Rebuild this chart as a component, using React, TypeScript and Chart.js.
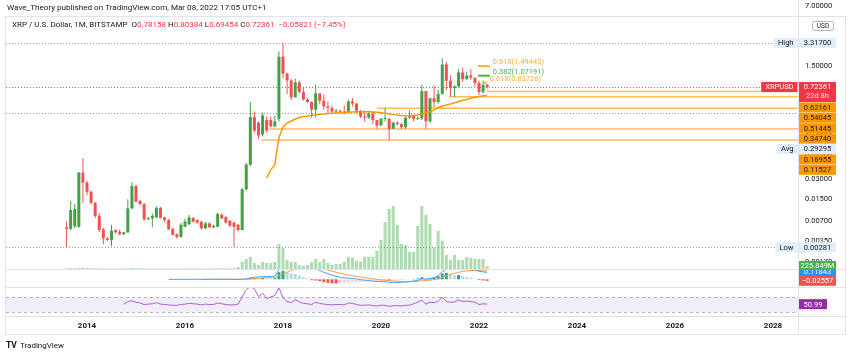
import React, { useEffect, useRef } from "react";
import { Chart, registerables } from "chart.js";

Chart.register(...registerables);

const W = 850;
const H = 357;
const FONT = "Roboto, 'DejaVu Sans', sans-serif";

// ---------------- data ----------------
const START_YEAR = 2013;
const START_MONTH = 8; // first monthly candle: Aug 2013

const opens = [
  0.0056, 0.0053, 0.0058, 0.0057, 0.0372, 0.0263, 0.0192, 0.0131, 0.0083, 0.0052,
  0.0038, 0.0036, 0.0051, 0.0048, 0.0044, 0.0047, 0.0108, 0.0234, 0.014, 0.0125,
  0.0074, 0.0076, 0.0079, 0.011, 0.0079, 0.0072, 0.0053, 0.0044, 0.004, 0.0057,
  0.0062, 0.0077, 0.0072, 0.0068, 0.0054, 0.0064, 0.0056, 0.0057, 0.0086, 0.008,
  0.007, 0.0066, 0.0061, 0.0051, 0.0209, 0.049, 0.255, 0.21, 0.14, 0.23,
  0.23, 0.185, 0.24, 2.07, 1.15, 0.91, 0.51, 0.85, 0.61, 0.47,
  0.43, 0.33, 0.58, 0.45, 0.37, 0.35, 0.31, 0.315, 0.31, 0.3,
  0.44, 0.41, 0.32, 0.26, 0.25, 0.29, 0.23, 0.19, 0.24, 0.24,
  0.17, 0.21, 0.2, 0.18, 0.25, 0.27, 0.24, 0.245, 0.63, 0.22,
  0.49, 0.43, 0.57, 1.58, 0.9, 0.7, 0.74, 1.2, 0.95, 1.08,
  1.0, 0.83, 0.61, 0.78158,
];
const highs = [
  0.0068, 0.0141, 0.0125, 0.0381, 0.0612, 0.0282, 0.02, 0.0135, 0.0092, 0.0055,
  0.004, 0.0061, 0.0052, 0.0052, 0.0048, 0.0148, 0.0266, 0.0245, 0.0145, 0.013,
  0.008, 0.009, 0.0115, 0.0113, 0.008, 0.0075, 0.0055, 0.0045, 0.0065, 0.0075,
  0.0086, 0.008, 0.0074, 0.007, 0.0067, 0.0066, 0.0061, 0.0093, 0.009, 0.0082,
  0.0072, 0.0068, 0.0063, 0.0218, 0.052, 0.43, 0.31, 0.22, 0.3, 0.26,
  0.26, 0.27, 2.47, 3.317, 1.2, 0.96, 0.97, 0.9, 0.7, 0.5,
  0.44, 0.79, 0.58, 0.56, 0.44, 0.38, 0.34, 0.33, 0.38, 0.47,
  0.5, 0.41, 0.32, 0.32, 0.32, 0.31, 0.23, 0.25, 0.35, 0.25,
  0.22, 0.22, 0.21, 0.26, 0.32, 0.28, 0.26, 0.78, 0.63, 0.5,
  0.76, 0.65, 1.96, 1.75, 1.09, 0.77, 1.35, 1.41, 1.23, 1.35,
  1.01, 0.91, 0.91, 0.80384,
];
const lows = [
  0.00281, 0.0051, 0.0054, 0.0055, 0.0129, 0.017, 0.0122, 0.0077, 0.0047, 0.0031,
  0.0035, 0.0029, 0.0045, 0.0043, 0.0043, 0.0046, 0.0105, 0.0133, 0.0122, 0.007,
  0.0072, 0.0056, 0.0077, 0.0076, 0.0068, 0.0051, 0.0042, 0.0038, 0.0039, 0.0056,
  0.006, 0.0066, 0.0064, 0.0052, 0.0053, 0.0055, 0.0054, 0.0056, 0.0075, 0.0064,
  0.0057, 0.00286, 0.0049, 0.005, 0.02, 0.047, 0.15, 0.12, 0.13, 0.15,
  0.18, 0.18, 0.22, 0.97, 0.57, 0.46, 0.5, 0.58, 0.45, 0.42,
  0.25, 0.25, 0.4, 0.33, 0.28, 0.29, 0.29, 0.3, 0.28, 0.29,
  0.37, 0.29, 0.25, 0.22, 0.24, 0.2, 0.17, 0.19, 0.22, 0.115,
  0.17, 0.19, 0.17, 0.17, 0.24, 0.22, 0.23, 0.23, 0.17, 0.21,
  0.36, 0.41, 0.56, 0.65, 0.51, 0.51, 0.71, 0.86, 0.93, 0.94,
  0.75, 0.55, 0.58, 0.69454,
];
const closes = [
  0.0053, 0.0102, 0.0106, 0.0374, 0.0263, 0.0192, 0.0131, 0.0083, 0.0051, 0.0038,
  0.0036, 0.005, 0.0047, 0.0044, 0.0047, 0.0108, 0.0234, 0.0136, 0.0125, 0.0074,
  0.0076, 0.0083, 0.011, 0.0078, 0.0072, 0.0052, 0.0043, 0.004, 0.0061, 0.0068,
  0.0079, 0.0068, 0.0066, 0.0054, 0.0064, 0.0056, 0.0059, 0.0089, 0.0076, 0.0066,
  0.0059, 0.0057, 0.0051, 0.0209, 0.0494, 0.255, 0.16, 0.135, 0.27, 0.16,
  0.185, 0.22, 2.07, 1.15, 0.91, 0.51, 0.85, 0.61, 0.47, 0.43,
  0.33, 0.58, 0.45, 0.37, 0.35, 0.31, 0.315, 0.31, 0.3, 0.44,
  0.41, 0.32, 0.26, 0.25, 0.29, 0.23, 0.19, 0.24, 0.24, 0.17,
  0.21, 0.2, 0.18, 0.25, 0.27, 0.24, 0.245, 0.63, 0.22, 0.49,
  0.43, 0.57, 1.58, 0.9, 0.7, 0.74, 1.2, 0.95, 1.08, 1.0,
  0.83, 0.61, 0.78182, 0.72361,
];
// volume in millions
const volumes = [
  45, 60, 55, 80, 95, 70, 60, 55, 50, 45,
  40, 45, 40, 40, 40, 60, 80, 70, 55, 50,
  45, 45, 50, 50, 45, 45, 40, 40, 45, 50,
  55, 50, 45, 45, 45, 45, 45, 60, 55, 50,
  50, 60, 150, 550, 750, 920, 450, 300, 525, 450,
  450, 525, 1875, 1575, 675, 550, 525, 300, 225, 300,
  525, 750, 525, 750, 450, 300, 375, 375, 550, 920,
  850, 600, 550, 920, 920, 920, 1370, 2175, 3525, 4500,
  4725, 3300, 1875, 1800, 1300, 1300, 3225, 4725, 4050, 3375,
  1575, 2850, 2125, 1050, 675, 1050, 675, 675, 900, 850,
  750, 750, 750, 225.849,
];
// anchored average line (starts Sep 2017)
const avgLine = [
  ...Array(49).fill(null),
  0.031, 0.041, 0.049, 0.124, 0.181, 0.208, 0.223, 0.239, 0.252, 0.261,
  0.265, 0.272, 0.276, 0.281, 0.284, 0.288, 0.291, 0.294, 0.297, 0.3,
  0.3025, 0.305, 0.307, 0.308, 0.308, 0.307, 0.305, 0.301, 0.297, 0.291,
  0.284, 0.278, 0.2745, 0.27, 0.267, 0.265, 0.27, 0.2745, 0.284, 0.296,
  0.308, 0.327, 0.356, 0.375, 0.388, 0.402, 0.42, 0.438, 0.457, 0.47,
  0.49, 0.507, 0.522, 0.533, 0.54045,
];
const macdLine = [
  ...Array(25).fill(null),
  -0.0008, -0.001, -0.0011, -0.0008, -0.0006, -0.0003, -0.0002, -0.0002, -0.0003, -0.0002,
  -0.0002, -0.0002, 0.0001, 0.0001, 0.0, -0.0001, -0.0002, -0.0003,
  0.002, 0.006, 0.025, 0.035, 0.04, 0.045, 0.048, 0.05, 0.055, 0.16,
  0.22, 0.25, 0.25, 0.26, 0.25, 0.23, 0.21, 0.18, 0.17, 0.15,
  0.12, 0.095, 0.07, 0.05, 0.035, 0.022, 0.02, 0.015, 0.006, -0.005,
  -0.015, -0.022, -0.03, -0.038, -0.04, -0.042, -0.05, -0.052, -0.052, -0.05,
  -0.046, -0.04, -0.03, -0.02, 0.01, 0.0, 0.01, 0.03, 0.06, 0.13,
  0.17, 0.18, 0.175, 0.19, 0.185, 0.18, 0.175, 0.16, 0.135, 0.125,
  0.11843,
];
const signalLine = [
  ...Array(33).fill(null),
  -0.0004, -0.0003, -0.0003, -0.0003, -0.0002, -0.0001, -0.0001, -0.0001, -0.0001, -0.0001,
  0.0003, 0.0015, 0.006, 0.012, 0.018, 0.023, 0.028, 0.032, 0.036, 0.06,
  0.092, 0.12, 0.15, 0.17, 0.185, 0.195, 0.198, 0.195, 0.19, 0.18,
  0.17, 0.155, 0.138, 0.12, 0.103, 0.087, 0.074, 0.062, 0.05, 0.039,
  0.028, 0.018, 0.008, -0.001, -0.009, -0.016, -0.023, -0.029, -0.034, -0.037,
  -0.039, -0.039, -0.037, -0.034, -0.025, -0.02, -0.014, -0.005, 0.008, 0.032,
  0.06, 0.084, 0.102, 0.12, 0.133, 0.142, 0.149, 0.151, 0.148, 0.144,
  0.144,
];
const macdHist = [
  ...Array(33).fill(null),
  0.0001, 0.0001, 0.0001, 0.0001, 0.0003, 0.0002, 0.0001, 0.0, -0.0001, -0.0002,
  0.0017, 0.0045, 0.019, 0.023, 0.022, 0.022, 0.02, 0.018, 0.019, 0.12,
  0.145, 0.13, 0.1, 0.09, 0.065, 0.035, 0.012, -0.015, -0.02, -0.03,
  -0.05, -0.06, -0.068, -0.07, -0.068, -0.065, -0.054, -0.047, -0.044, -0.044,
  -0.043, -0.04, -0.038, -0.037, -0.031, -0.026, -0.027, -0.023, -0.018, -0.013,
  -0.007, -0.001, 0.007, 0.014, 0.035, 0.02, 0.024, 0.035, 0.052, 0.098,
  0.11, 0.096, 0.065, 0.072, 0.052, 0.038, 0.026, 0.009, -0.013, -0.019,
  -0.02557,
];
const rsi = [
  ...Array(14).fill(null),
  51, 58, 60, 56, 54, 50, 51, 52, 55, 51,
  50, 49, 48, 48, 50, 51, 53, 52, 51, 49,
  51, 50, 50, 54, 52, 50, 49, 49, 51, 70,
  90, 97, 92, 71, 80, 66, 70, 74, 95, 68,
  58, 55, 63, 57, 53, 52, 50, 56, 53, 51,
  50, 49, 50, 50, 49, 54, 53, 50, 48, 48,
  49, 47, 46, 48, 48, 45, 47, 47, 46, 48,
  48, 52, 56, 62, 51, 56, 55, 58, 70, 58,
  56, 57, 62, 58, 59, 58, 56, 50, 52, 50.99,
];

const yearTicks = [2014, 2016, 2018, 2020, 2022, 2024, 2026, 2028];
const priceTicks = [1.5, 0.7, 0.35, 0.15, 0.07, 0.03, 0.015, 0.007, 0.0035, 0.0017];
const topPriceLabel = "7.00000";

const highPrice = 3.317;
const lowPrice = 0.00281;
const avgPrice = 0.29295;
const timeLeft = "23d 8h";

const supportLevels = [0.62161, 0.51445, 0.3474, 0.16955, 0.11527];
const supportStartYears = [2022.16, 2021.41, 2019.92, 2017.72, 2017.56];

const fibLevels = [1.49443, 1.07191, 0.83726];
const fibRatios = ["0.618", "0.382", "0.618"];
const fibStartYears = [2021.98, 2021.98, 2022.08];
const fibEndYears = [2022.22, 2022.22, 2022.16];
const fibColors = ["#f7b12d", "#4caf50", "#f7b12d"];

const rsiUpper = 70;
const rsiLower = 30;

// ---------------- helpers ----------------
const monthX = (i: number) => START_YEAR + (START_MONTH - 1 + i) / 12;
const UP = "#43a047";
const DOWN = "#ef5350";
const fnt = (size: number, weight = "normal") => `${weight} ${size}px ${FONT}`;
const minus = (s: string) => s.replace("-", "\u2212");

function panes(chart: any) {
  const a = chart.chartArea;
  return {
    main: [a.top, a.top + 254],
    macd: [a.top + 254, a.top + 272],
    rsi: [a.top + 272, a.bottom],
  } as Record<string, number[]>;
}

function labelBox(ctx: CanvasRenderingContext2D, x: number, y: number, w: number, h: number, bg: string, fg: string, text: string, font = fnt(7.5)) {
  ctx.fillStyle = bg;
  ctx.fillRect(x, y, w, h);
  ctx.fillStyle = fg;
  ctx.font = font;
  ctx.textAlign = "center";
  ctx.textBaseline = "middle";
  ctx.fillText(text, x + w / 2, y + h / 2 + 0.5);
}

const overlay = {
  id: "overlay",
  beforeDraw(chart: any) {
    const { ctx, chartArea: a, scales } = chart;
    ctx.save();
    ctx.fillStyle = "#ffffff";
    ctx.fillRect(0, 0, W, H);
    const r = scales.rsi;
    const y70 = r.getPixelForValue(rsiUpper);
    const y30 = r.getPixelForValue(rsiLower);
    ctx.fillStyle = "rgba(126,87,194,0.10)";
    ctx.fillRect(a.left, y70, a.right - a.left, y30 - y70);
    ctx.strokeStyle = "rgba(140,130,160,0.6)";
    ctx.lineWidth = 1;
    ctx.setLineDash([3, 3]);
    for (const y of [y70, y30]) {
      ctx.beginPath();
      ctx.moveTo(a.left, Math.round(y) + 0.5);
      ctx.lineTo(a.right, Math.round(y) + 0.5);
      ctx.stroke();
    }
    ctx.restore();
  },
  beforeDatasetsDraw(chart: any) {
    const { ctx, chartArea: a, scales } = chart;
    const y = scales.y;
    const x = scales.x;
    ctx.save();
    ctx.lineWidth = 1;
    ctx.setLineDash([1, 2]);
    const dotted: [number, string][] = [
      [highPrice, "#9598a1"],
      [avgPrice, "#9598a1"],
      [lowPrice, "#9598a1"],
      [closes[closes.length - 1], "#ef5350"],
    ];
    for (const [p, c] of dotted) {
      const py = Math.round(y.getPixelForValue(p)) + 0.5;
      ctx.strokeStyle = c;
      ctx.beginPath();
      ctx.moveTo(a.left, py);
      ctx.lineTo(a.right, py);
      ctx.stroke();
    }
    ctx.setLineDash([]);
    ctx.strokeStyle = "rgba(255,167,38,0.75)";
    ctx.lineWidth = 1.5;
    supportLevels.forEach((lv, i) => {
      const py = y.getPixelForValue(lv);
      ctx.beginPath();
      ctx.moveTo(x.getPixelForValue(supportStartYears[i]), py);
      ctx.lineTo(a.right, py);
      ctx.stroke();
    });
    ctx.restore();
  },
  beforeDatasetDraw(chart: any, args: any) {
    const ds = chart.data.datasets[args.index];
    const p = panes(chart)[ds.pane || "main"];
    const a = chart.chartArea;
    const ctx = chart.ctx;
    ctx.save();
    ctx.beginPath();
    ctx.rect(a.left, p[0], a.right - a.left, p[1] - p[0]);
    ctx.clip();
  },
  afterDatasetDraw(chart: any) {
    chart.ctx.restore();
  },
  afterDraw(chart: any) {
    const { ctx, chartArea: a, scales } = chart;
    const y = scales.y;
    const x = scales.x;
    const pn = panes(chart);
    ctx.save();

    // fib segments + labels
    fibLevels.forEach((lv, i) => {
      const py = y.getPixelForValue(lv);
      const x0 = x.getPixelForValue(fibStartYears[i]);
      const x1 = x.getPixelForValue(fibEndYears[i]);
      ctx.strokeStyle = fibColors[i];
      ctx.lineWidth = 2;
      ctx.beginPath();
      ctx.moveTo(x0, py);
      ctx.lineTo(x1, py);
      ctx.stroke();
      ctx.fillStyle = fibColors[i];
      ctx.font = fnt(7.5);
      ctx.textAlign = "left";
      ctx.textBaseline = "middle";
      ctx.fillText(`${fibRatios[i]}(${lv.toFixed(5)})`, x1 + 3, py - 4);
    });

    // frame & separators
    ctx.strokeStyle = "#e0e3eb";
    ctx.lineWidth = 1;
    ctx.strokeRect(5.5, a.top + 0.5, 840, a.bottom + 17 - a.top);
    ctx.beginPath();
    ctx.moveTo(a.right + 0.5, 0);
    ctx.lineTo(a.right + 0.5, a.bottom + 17.5);
    for (const yy of [pn.main[1], pn.macd[1], a.bottom]) {
      ctx.moveTo(5.5, yy - 0.5);
      ctx.lineTo(845.5, yy - 0.5);
    }
    ctx.stroke();

    // top price text & currency box
    ctx.fillStyle = "#131722";
    ctx.font = fnt(7.5);
    ctx.textAlign = "left";
    ctx.textBaseline = "middle";
    ctx.fillText(topPriceLabel, a.right + 7, 6);
    ctx.fillStyle = "#ffffff";
    ctx.strokeStyle = "#b2b5be";
    ctx.beginPath();
    ctx.roundRect(812.5, 21.5, 21, 9, 2);
    ctx.fill();
    ctx.stroke();
    ctx.fillStyle = "#131722";
    ctx.font = fnt(6.5);
    ctx.textAlign = "center";
    ctx.fillText("USD", 823, 26.5);

    // price axis marks (stacked like TradingView)
    const bx = a.right + 1;
    const bw = 37;
    const last = closes.length - 1;
    const avgLast = avgLine[last] as number;
    const INFO_BG = "#e3edf9";
    const ORANGE = "#ff9800";
    const marks: any[] = [
      { price: highPrice, tag: "High", bg: INFO_BG, fg: "#131722", h: 10 },
      { price: closes[last], tag: "XRPUSD", bg: "#f23645", fg: "#ffffff", h: 20, sub: timeLeft },
      ...supportLevels.map((p) => ({ price: p, bg: ORANGE, fg: "#131722", h: 10 })),
      { price: avgLast, bg: ORANGE, fg: "#131722", h: 10 },
      { price: avgPrice, tag: "Avg", bg: INFO_BG, fg: "#131722", h: 10 },
      { price: lowPrice, tag: "Low", bg: INFO_BG, fg: "#131722", h: 10 },
    ];
    marks.sort((m1, m2) => m2.price - m1.price);
    let prevBottom = -1e9;
    for (const m of marks) {
      let top = y.getPixelForValue(m.price) - 5;
      if (top < prevBottom + 0.4) top = prevBottom + 0.4;
      prevBottom = top + m.h;
      ctx.fillStyle = m.bg;
      ctx.fillRect(bx, top, bw, m.h);
      ctx.fillStyle = m.fg;
      ctx.font = fnt(7.5);
      ctx.textAlign = "center";
      ctx.textBaseline = "middle";
      ctx.fillText(m.price.toFixed(5), bx + bw / 2, top + 5.5);
      if (m.sub) {
        ctx.fillStyle = "rgba(255,255,255,0.85)";
        ctx.fillText(m.sub, bx + bw / 2, top + 14.5);
      }
      if (m.tag) {
        ctx.font = fnt(7.5);
        const tw = ctx.measureText(m.tag).width + 8;
        labelBox(ctx, a.right - tw - 0.5, top, tw, 10, m.bg, m.fg, m.tag);
      }
    }

    // lower pane marks
    const vy = scales.vol.getPixelForValue(volumes[last]);
    const my = scales.macd.getPixelForValue(macdLine[last]);
    const hy = scales.macd.getPixelForValue(macdHist[last]);
    const ry = scales.rsi.getPixelForValue(rsi[last]);
    labelBox(ctx, bx, my - 5, bw, 9, "#2196f3", "#ffffff", (macdLine[last] as number).toFixed(5));
    labelBox(ctx, bx, vy - 5, bw, 9, "#4caf50", "#ffffff", `${volumes[last].toFixed(3)}M`);
    labelBox(ctx, bx, hy - 5, bw, 10, "#ef5350", "#ffffff", minus((macdHist[last] as number).toFixed(5)));
    labelBox(ctx, bx, ry - 5, 28, 10, "#9c27b0", "#ffffff", (rsi[last] as number).toFixed(2));

    // header
    ctx.textAlign = "left";
    ctx.textBaseline = "middle";
    ctx.font = fnt(8.1);
    ctx.fillStyle = "#131722";
    ctx.fillText("Wave_Theory published on TradingView.com, Mar 08, 2022 17:05 UTC+1", 7, 8);
    const prev = closes[last - 1];
    const chg = closes[last] - prev;
    const RED = "#f23645";
    const DARK = "#131722";
    const parts: [string, string][] = [
      ["XRP / U.S. Dollar, 1M, BITSTAMP  O", DARK],
      [opens[last].toFixed(5), RED],
      [" H", DARK],
      [highs[last].toFixed(5), RED],
      [" L", DARK],
      [lows[last].toFixed(5), RED],
      [" C", DARK],
      [closes[last].toFixed(5), RED],
      [`  ${minus(chg.toFixed(5))} (${minus(((chg / prev) * 100).toFixed(2))}%)`, RED],
    ];
    let tx = 12;
    ctx.font = fnt(8);
    for (const [t, c] of parts) {
      ctx.fillStyle = c;
      ctx.fillText(t, tx, 25);
      tx += ctx.measureText(t).width;
    }

    // footer logo
    ctx.fillStyle = "#131722";
    ctx.font = fnt(8.5, "bold");
    ctx.fillText("TV", 6, 346);
    ctx.font = fnt(8);
    ctx.fillText("TradingView", 20, 346);
    ctx.restore();
  },
};

export default function App() {
  const ref = useRef<HTMLCanvasElement>(null);
  useEffect(() => {
    const canvas = ref.current;
    if (!canvas) return;
    const idx = opens.map((_, i) => i);
    const isUp = (i: number) => closes[i] >= opens[i];
    const candleColors = idx.map((i) => (isUp(i) ? UP : DOWN));
    const histColors = macdHist.map((h, i) => {
      if (h === null) return "transparent";
      const p = (macdHist[i - 1] as number) ?? 0;
      if (h >= 0) return h >= p ? "#26a69a" : "#b2dfdb";
      return h < p ? "#ff5252" : "#ffcdd2";
    });
    const xy = (arr: (number | null)[]) => arr.map((v, i) => ({ x: monthX(i), y: v }));

    const chart = new Chart(canvas, {
      type: "bar",
      data: {
        datasets: [
          {
            type: "bar",
            pane: "main",
            yAxisID: "vol",
            data: xy(volumes),
            backgroundColor: "rgba(76,175,80,0.45)",
            barThickness: 3,
            grouped: false,
            inflateAmount: 0,
            order: 6,
          } as any,
          {
            type: "bar",
            pane: "main",
            yAxisID: "y",
            data: idx.map((i) => ({ x: monthX(i), y: [lows[i], highs[i]] })),
            backgroundColor: candleColors,
            barThickness: 1,
            grouped: false,
            inflateAmount: 0,
            order: 5,
          } as any,
          {
            type: "bar",
            pane: "main",
            yAxisID: "y",
            data: idx.map((i) => ({ x: monthX(i), y: [opens[i], closes[i]] })),
            backgroundColor: candleColors,
            barThickness: 3,
            minBarLength: 1,
            grouped: false,
            inflateAmount: 0,
            order: 4,
          } as any,
          {
            type: "line",
            pane: "main",
            yAxisID: "y",
            data: xy(avgLine),
            borderColor: "#ff9800",
            borderWidth: 1.5,
            pointRadius: 0,
            spanGaps: false,
            order: 1,
          } as any,
          {
            type: "bar",
            pane: "macd",
            yAxisID: "macd",
            data: xy(macdHist),
            backgroundColor: histColors,
            barThickness: 3,
            grouped: false,
            inflateAmount: 0,
            order: 6,
          } as any,
          {
            type: "line",
            pane: "macd",
            yAxisID: "macd",
            data: xy(signalLine),
            borderColor: "#ff9a4d",
            borderWidth: 1,
            pointRadius: 0,
            order: 2,
          } as any,
          {
            type: "line",
            pane: "macd",
            yAxisID: "macd",
            data: xy(macdLine),
            borderColor: "#42a5f5",
            borderWidth: 1,
            pointRadius: 0,
            order: 1,
          } as any,
          {
            type: "line",
            pane: "rsi",
            yAxisID: "rsi",
            data: xy(rsi),
            borderColor: "#b05fd6",
            borderWidth: 1,
            pointRadius: 0,
            order: 1,
          } as any,
        ],
      },
      options: {
        responsive: false,
        animation: false,
        devicePixelRatio: 1,
        events: [],
        layout: { padding: { left: 6, top: 16, right: 5, bottom: 23 } },
        plugins: { legend: { display: false }, tooltip: { enabled: false } },
        scales: {
          x: {
            type: "linear",
            min: 2012.347,
            max: 2028.51,
            offset: false,
            bounds: "data",
            grid: { display: false, drawTicks: false },
            border: { display: false },
            afterBuildTicks: (s: any) => {
              s.ticks = yearTicks.map((v) => ({ value: v }));
            },
            afterFit: (s: any) => {
              s.height = 17;
            },
            ticks: {
              autoSkip: false,
              maxRotation: 0,
              padding: 4,
              color: "#131722",
              font: { family: FONT, size: 8, weight: "bold" },
              callback: (v: any) => String(v),
            },
          },
          y: {
            type: "logarithmic",
            position: "right",
            min: 0.0002499,
            max: 8.485,
            bounds: "data",
            grid: { display: false, drawTicks: false },
            border: { display: false },
            afterBuildTicks: (s: any) => {
              s.ticks = priceTicks.map((v) => ({ value: v }));
            },
            afterFit: (s: any) => {
              s.width = 47;
            },
            ticks: {
              autoSkip: false,
              padding: 7,
              color: "#131722",
              font: { family: FONT, size: 7.5 },
              callback: (v: any) => Number(v).toFixed(5),
            },
          },
          vol: { axis: "y", type: "linear", display: false, min: -3600, max: 18975, bounds: "data", beginAtZero: false },
          macd: { axis: "y", type: "linear", display: false, min: -0.639, max: 4.463, bounds: "data", beginAtZero: false },
          rsi: { axis: "y", type: "linear", display: false, min: 16.667, max: 819.33, bounds: "data", beginAtZero: false },
        },
      } as any,
      plugins: [overlay as any],
    });
    return () => chart.destroy();
  }, []);

  return (
    <div style={{ position: "absolute", left: 0, top: 0, width: W, height: H, background: "#fff" }}>
      <canvas ref={ref} width={W} height={H} style={{ width: W, height: H, display: "block" }} />
    </div>
  );
}
